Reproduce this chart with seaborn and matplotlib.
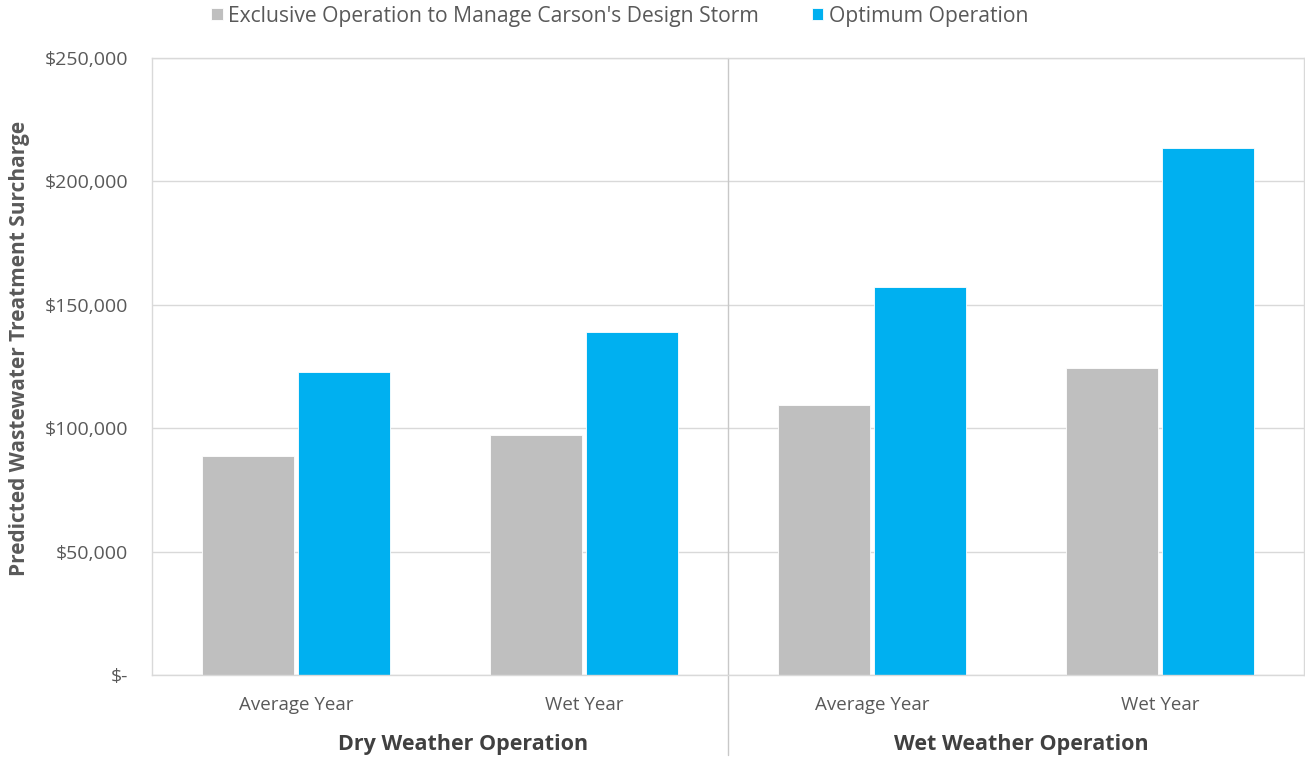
import pandas as pd
import seaborn as sns
import matplotlib.pyplot as plt
from matplotlib.ticker import FuncFormatter
import matplotlib.transforms as mtransforms

# data
categories = ["Dry|Average Year", "Dry|Wet Year", "Wet|Average Year", "Wet|Wet Year"]
tick_labels = ["Average Year", "Wet Year", "Average Year", "Wet Year"]
group_labels = ["Dry Weather Operation", "Wet Weather Operation"]
series_names = ["Exclusive Operation to Manage Carson's Design Storm", "Optimum Operation"]
exclusive = [88700, 97200, 109400, 124300]
optimum = [122800, 139000, 157100, 213500]

colors = ["#bfbfbf", "#00b0f0"]
text_col = "#595959"

df = pd.DataFrame({
    "cat": categories * 2,
    "series": [series_names[0]] * 4 + [series_names[1]] * 4,
    "value": exclusive + optimum,
})

sns.set_style("white")
plt.rcParams["font.family"] = ["Open Sans", "DejaVu Sans"]

fig = plt.figure(figsize=(13.05, 7.57), dpi=100)
ax = fig.add_axes([0.1165, 0.1083, 0.8827, 0.8151])

sns.barplot(data=df, x="cat", y="value", hue="series", palette=colors,
            width=0.667, gap=0.04, saturation=1, ax=ax, legend=True,
            edgecolor="white", linewidth=0.6)

ax.set_ylim(0, 250000)
ax.set_xlim(-0.5, 3.5)
ax.set_yticks(range(0, 250001, 50000))
ax.yaxis.set_major_formatter(FuncFormatter(lambda v, p: "$-" if v == 0 else f"${v:,.0f}"))
ax.grid(axis="y", color="#d9d9d9", linewidth=1)
ax.set_axisbelow(True)
for s in ax.spines.values():
    s.set_color("#d9d9d9")
    s.set_linewidth(1)
ax.tick_params(axis="y", length=0, pad=17, labelsize=14, labelcolor=text_col)
ax.tick_params(axis="x", length=0, pad=15, labelsize=13.5, labelcolor=text_col)
ax.set_xticks(range(4))
ax.set_xticklabels(tick_labels)
ax.set_xlabel("")
ax.set_ylabel("Predicted Wastewater Treatment Surcharge", fontsize=15,
              fontweight="bold", color=text_col)
ax.yaxis.set_label_coords(-0.106, 0.53)

# separator between the two groups, running down through the label area
trans = mtransforms.blended_transform_factory(ax.transData, ax.transAxes)
ax.plot([1.5, 1.5], [-0.13, 1], transform=trans, color="#c8c8c8", lw=1, clip_on=False)

ax.text(0.58, -0.113, group_labels[0], transform=trans, ha="center", va="center",
        fontsize=15.5, fontweight="bold", color="#404040")
ax.text(2.52, -0.113, group_labels[1], transform=trans, ha="center", va="center",
        fontsize=15.5, fontweight="bold", color="#404040")

ax.legend(loc="center", bbox_to_anchor=(0.406, 1.068), ncol=2, frameon=False,
          fontsize=15.2, handlelength=0.55, handleheight=0.55, handletextpad=0.25,
          columnspacing=2.5, labelcolor=text_col)

fig.savefig("out.png", dpi=100)
